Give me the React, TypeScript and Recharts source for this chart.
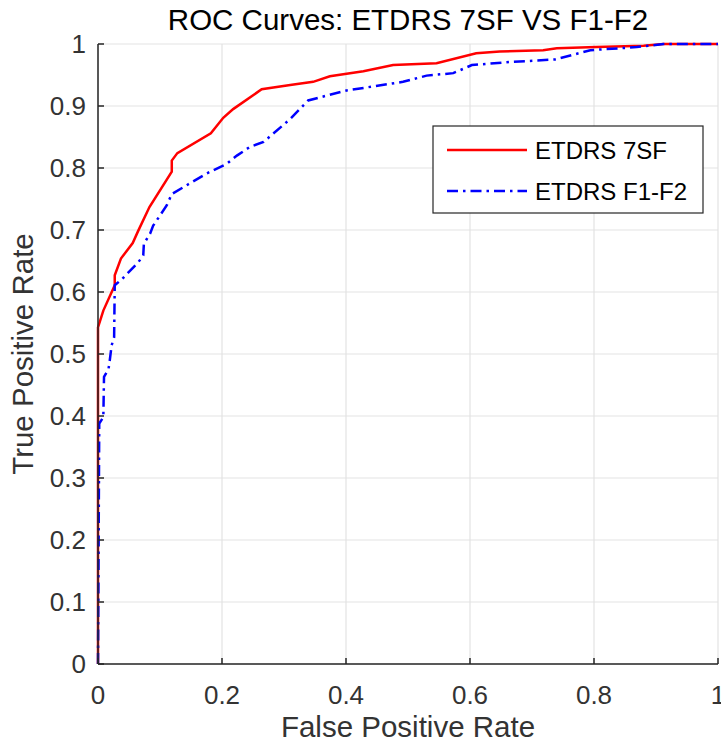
import React from "react";
import { LineChart, Line, XAxis, YAxis, CartesianGrid } from "recharts";

const fpr7SF = [0, 0, 0.0086, 0.027, 0.027, 0.037, 0.056, 0.065, 0.083, 0.119, 0.119, 0.128, 0.182, 0.202, 0.218, 0.264, 0.31, 0.347, 0.374, 0.428, 0.476, 0.546, 0.61, 0.648, 0.718, 0.74, 0.804, 0.88, 0.912, 1];
const tpr7SF = [0, 0.543, 0.57, 0.611, 0.627, 0.654, 0.679, 0.699, 0.737, 0.794, 0.812, 0.824, 0.856, 0.881, 0.895, 0.927, 0.934, 0.939, 0.948, 0.956, 0.966, 0.969, 0.985, 0.988, 0.99, 0.993, 0.995, 0.997, 1, 1];

const fprF1F2 = [0, 0.002, 0.0086, 0.0097, 0.017, 0.019, 0.022, 0.026, 0.027, 0.038, 0.065, 0.073, 0.074, 0.084, 0.089, 0.111, 0.119, 0.175, 0.208, 0.224, 0.245, 0.267, 0.31, 0.339, 0.401, 0.492, 0.53, 0.573, 0.603, 0.665, 0.737, 0.794, 0.869, 0.912, 1];
const tprF1F2 = [0, 0.388, 0.398, 0.463, 0.476, 0.49, 0.514, 0.527, 0.611, 0.62, 0.648, 0.659, 0.678, 0.694, 0.707, 0.74, 0.758, 0.791, 0.807, 0.82, 0.834, 0.842, 0.879, 0.909, 0.925, 0.939, 0.949, 0.953, 0.966, 0.971, 0.975, 0.99, 0.995, 1, 1];

const xTicks = [0, 0.2, 0.4, 0.6, 0.8, 1];
const yTicks = [0, 0.1, 0.2, 0.3, 0.4, 0.5, 0.6, 0.7, 0.8, 0.9, 1];

const seriesNames = ["ETDRS 7SF", "ETDRS F1-F2"];
const titleText = "ROC Curves: ETDRS 7SF VS F1-F2";
const xLabel = "False Positive Rate";
const yLabel = "True Positive Rate";

const data7SF = fpr7SF.map((x, i) => ({ x, y: tpr7SF[i] }));
const dataF1F2 = fprF1F2.map((x, i) => ({ x, y: tprF1F2[i] }));

const FONT = "'Liberation Sans', Arial, Helvetica, sans-serif";
const AXIS_COLOR = "#262626";
const TEXT_COLOR = "#333333";
const TICK_LEN = 6;
const DASH = "11 5 2.5 5";

const BottomTick = (props: any) => {
  const { x, y, payload } = props;
  return (
    <g>
      <line x1={x} y1={y} x2={x} y2={y - TICK_LEN} stroke={AXIS_COLOR} strokeWidth={1.5} />
      <text x={x} y={y + 39.5} textAnchor="middle" fontSize={26} fontFamily={FONT} fill={TEXT_COLOR}>
        {String(payload.value)}
      </text>
    </g>
  );
};

const LeftTick = (props: any) => {
  const { x, y, payload } = props;
  return (
    <g>
      <line x1={x} y1={y} x2={x + TICK_LEN} y2={y} stroke={AXIS_COLOR} strokeWidth={1.5} />
      <text x={x - 12} y={y + 9.3} textAnchor="end" fontSize={26} fontFamily={FONT} fill={TEXT_COLOR}>
        {String(payload.value)}
      </text>
    </g>
  );
};

const TopTick = (props: any) => {
  const { x, y } = props;
  return <line x1={x} y1={y} x2={x} y2={y + TICK_LEN} stroke={AXIS_COLOR} strokeWidth={1.5} />;
};

const RightTick = (props: any) => {
  const { x, y } = props;
  return <line x1={x} y1={y} x2={x - TICK_LEN} y2={y} stroke={AXIS_COLOR} strokeWidth={1.5} />;
};

export default function App() {
  const W = 721;
  const H = 745;
  return (
    <div style={{ position: "absolute", left: 0, top: 0, width: W, height: H, overflow: "hidden" }}>
      <LineChart width={W} height={H} margin={{ top: 44, right: 3, left: 0, bottom: 0 }}>
        <CartesianGrid stroke="#e3e3e3" strokeWidth={1.2} />
        <XAxis
          dataKey="x"
          type="number"
          domain={[0, 1]}
          ticks={xTicks}
          height={81}
          tickSize={0}
          tickMargin={0}
          tick={BottomTick}
          axisLine={{ stroke: AXIS_COLOR, strokeWidth: 1.5 }}
          tickLine={false}
          interval={0}
        />
        <XAxis
          xAxisId="top"
          orientation="top"
          type="number"
          domain={[0, 1]}
          ticks={xTicks}
          height={0}
          tickSize={0}
          tickMargin={0}
          tick={TopTick}
          axisLine={{ stroke: AXIS_COLOR, strokeWidth: 1.5 }}
          tickLine={false}
          interval={0}
        />
        <YAxis
          type="number"
          domain={[0, 1]}
          ticks={yTicks}
          width={98}
          tickSize={0}
          tickMargin={0}
          tick={LeftTick}
          axisLine={{ stroke: AXIS_COLOR, strokeWidth: 1.5 }}
          tickLine={false}
          interval={0}
        />
        <YAxis
          yAxisId="right"
          orientation="right"
          type="number"
          domain={[0, 1]}
          ticks={yTicks}
          width={0}
          tickSize={0}
          tickMargin={0}
          tick={RightTick}
          axisLine={{ stroke: AXIS_COLOR, strokeWidth: 1.5 }}
          tickLine={false}
          interval={0}
        />
        <Line
          data={data7SF}
          dataKey="y"
          name={seriesNames[0]}
          type="linear"
          stroke="#ff0000"
          strokeWidth={2.5}
          dot={false}
          activeDot={false}
          isAnimationActive={false}
        />
        <Line
          data={dataF1F2}
          dataKey="y"
          name={seriesNames[1]}
          type="linear"
          stroke="#0000ff"
          strokeWidth={2.5}
          strokeDasharray={DASH}
          dot={false}
          activeDot={false}
          isAnimationActive={false}
        />
      </LineChart>
      <svg
        width={W}
        height={H}
        style={{ position: "absolute", left: 0, top: 0, pointerEvents: "none" }}
      >
        <text x={408} y={30} textAnchor="middle" fontSize={29.5} fontFamily={FONT} fill="#000">
          {titleText}
        </text>
        <text x={408} y={737} textAnchor="middle" fontSize={29.5} fontFamily={FONT} fill={TEXT_COLOR}>
          {xLabel}
        </text>
        <text
          x={33}
          y={354}
          textAnchor="middle"
          fontSize={29.5}
          fontFamily={FONT}
          fill={TEXT_COLOR}
          transform="rotate(-90 33 354)"
        >
          {yLabel}
        </text>
        <rect x={433} y={126} width={270} height={87} fill="#fff" stroke={AXIS_COLOR} strokeWidth={1.2} />
        <line x1={447} y1={150} x2={527} y2={150} stroke="#ff0000" strokeWidth={2.5} />
        <line x1={447} y1={191} x2={527} y2={191} stroke="#0000ff" strokeWidth={2.5} strokeDasharray={DASH} />
        <text x={535} y={158.5} fontSize={24} fontFamily={FONT} fill="#000">
          {seriesNames[0]}
        </text>
        <text x={535} y={199.5} fontSize={24} fontFamily={FONT} fill="#000">
          {seriesNames[1]}
        </text>
      </svg>
    </div>
  );
}
